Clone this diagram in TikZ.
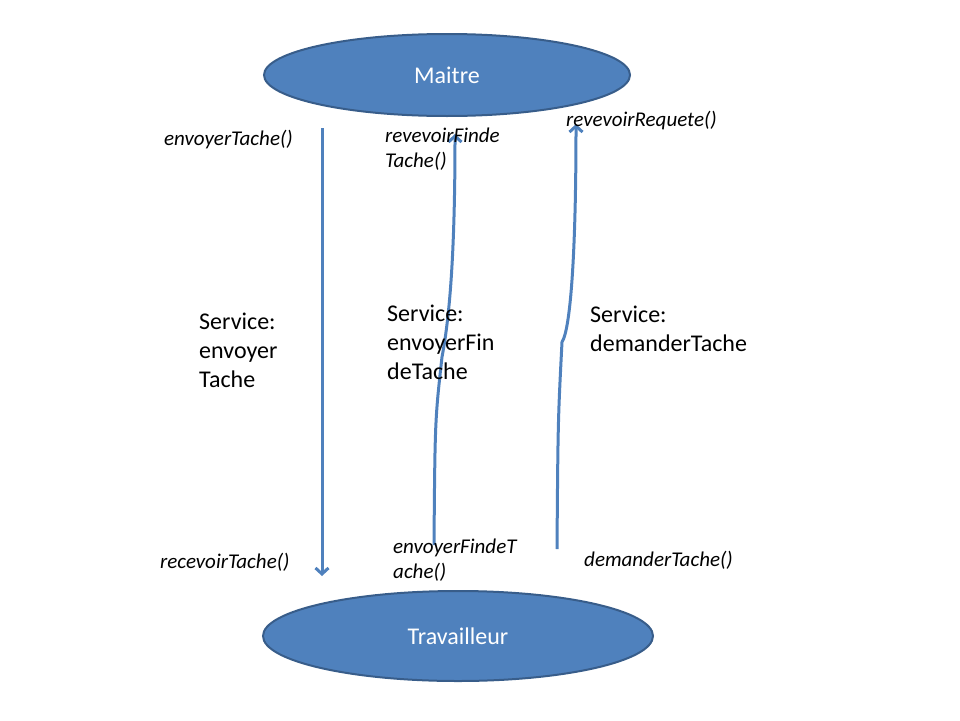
\documentclass[tikz,border=0pt]{standalone}
\usepackage{fontspec}
\setmainfont{Carlito}
\usetikzlibrary{shapes.geometric,arrows.meta}
\definecolor{bleu}{HTML}{4F81BD}
\definecolor{bordure}{HTML}{385D8A}
\begin{document}
\begin{tikzpicture}[x=1pt,y=-1pt,
    acteur/.style={ellipse,draw=bordure,line width=2pt,fill=bleu,text=white,inner sep=0,
        font=\fontsize{24}{29}\selectfont},
    service/.style={font=\fontsize{24}{29}\selectfont,align=left,anchor=west,inner sep=0},
    appel/.style={font=\fontsize{21}{25}\selectfont\itshape,align=left,anchor=west,inner sep=0},
    fleche/.style={draw=bleu,line width=3pt,-{Straight Barb[length=6pt,width=13pt]}}]
        \useasboundingbox (0,0) rectangle (960,720);
        \node[acteur,minimum width=366,minimum height=82] (maitre) at (447,75) {Maitre};
        \node[acteur,minimum width=390,minimum height=90] (travailleur) at (458,636) {Travailleur};
        % envoyer une tache
        \coordinate (envoiHaut) at (322,128);
        \coordinate (envoiBas) at (322,576);
        \draw[fleche] (envoiHaut) -- (envoiBas);
        % fin de tache
        \coordinate (finBas) at (434,545);
        \coordinate (finHaut) at (455,134);
        \draw[fleche] (finBas) .. controls (435,420) .. (442,357) .. controls (449,320) and (455,260) .. (finHaut);
        % demande de tache
        \coordinate (demBas) at (557,549);
        \coordinate (demHaut) at (576,124);
        \draw[fleche] (demBas) .. controls (558,420) .. (562,342) .. controls (570,330) and (576,260) .. (demHaut);
        % labels des services
        \node[service] (sEnvoi) at (199,350) {Service:\\envoyer\\Tache};
        \node[service] (sFin) at (387,342) {Service:\\envoyerFin\\deTache};
        \node[service] (sDem) at (590,329) {Service:\\demanderTache};
        % labels des appels
        \node[appel] (aEnvoi) at (164,140) {envoyerTache()};
        \node[appel] (aFin) at (385,149) {revevoirFinde\\Tache()};
        \node[appel] (aDem) at (566,121) {revevoirRequete()};
        \node[appel] (aRecoit) at (160,562) {recevoirTache()};
        \node[appel] (aFinT) at (393,560) {envoyerFindeT\\ache()};
        \node[appel] (aDemT) at (584,560) {demanderTache()};
\end{tikzpicture}
\end{document}
